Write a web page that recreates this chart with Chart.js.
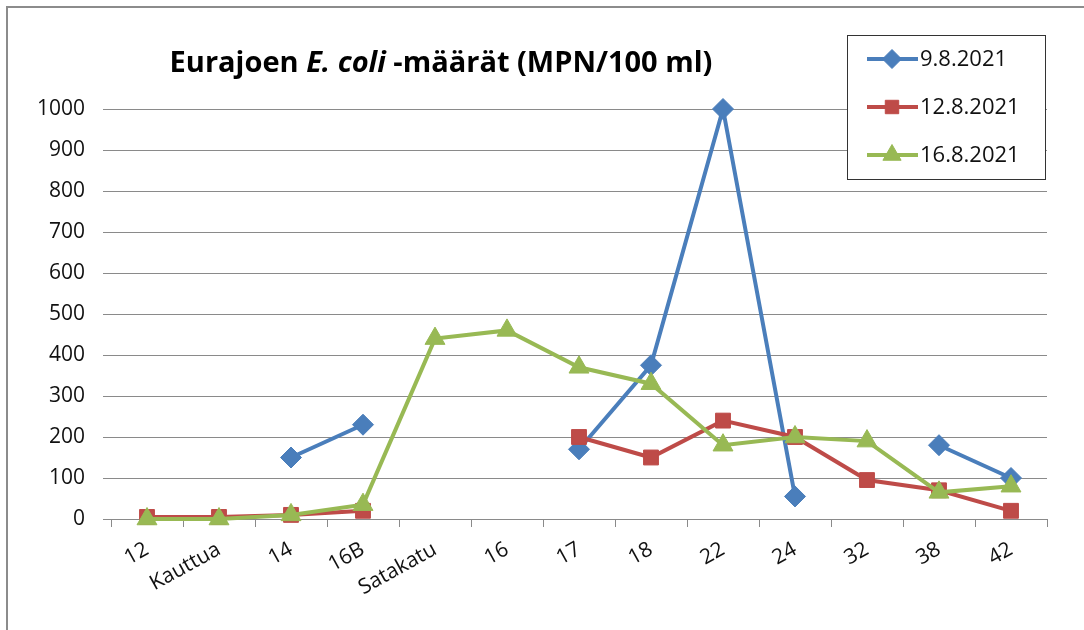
<!DOCTYPE html>
<html lang="fi">
<head>
    <meta charset="UTF-8">
    <title>Eurajoen E. coli -määrät</title>
    <script src="https://cdn.jsdelivr.net/npm/chart.js"></script>
    <style>
        body {
            margin: 0;
            padding: 0;
            background-color: #ffffff;
        }
        #wrap {
            width: 1084px;
            height: 630px;
        }
    </style>
</head>
<body>
    <div id="wrap">
        <canvas id="chart" width="1084" height="630"></canvas>
    </div>

    <script>
        // sampling sites along the river
        const sites = ['12', 'Kauttua', '14', '16B', 'Satakatu', '16', '17', '18', '22', '24', '32', '38', '42'];

        // E. coli counts (MPN/100 ml), null = not sampled
        const aug9 = [null, null, 150, 230, null, null, 170, 375, 1000, 55, null, 180, 100];
        const aug12 = [5, 5, 10, 20, null, null, 200, 150, 240, 200, 95, 70, 20];
        const aug16 = [0, 0, 10, 35, 440, 460, 370, 330, 180, 200, 190, 65, 80];

        const seriesNames = ['9.8.2021', '12.8.2021', '16.8.2021'];
        const yTicks = [0, 100, 200, 300, 400, 500, 600, 700, 800, 900, 1000];

        const FONT = "'Open Sans', sans-serif";
        Chart.defaults.font.family = FONT;
        Chart.defaults.color = '#111';

        // white background + outer frame
        const framePlugin = {
            id: 'frame',
            beforeDraw(chart) {
                const ctx = chart.ctx;
                ctx.save();
                ctx.fillStyle = '#fff';
                ctx.fillRect(0, 0, chart.width, chart.height);
                ctx.strokeStyle = '#8c8c8c';
                ctx.lineWidth = 2;
                ctx.strokeRect(7, 7, chart.width + 20, chart.height + 20);
                ctx.restore();
            }
        };

        // title with italic species name
        const titlePlugin = {
            id: 'mixedTitle',
            afterDraw(chart) {
                const ctx = chart.ctx;
                const parts = [
                    ['bold', 'Eurajoen '],
                    ['italic bold', 'E. coli'],
                    ['bold', ' -määrät (MPN/100 ml)']
                ];
                ctx.save();
                ctx.fillStyle = '#000';
                ctx.textBaseline = 'alphabetic';
                let total = 0;
                parts.forEach(p => {
                    ctx.font = p[0] + ' 29px ' + FONT;
                    total += ctx.measureText(p[1]).width;
                });
                let x = 441 - total / 2;
                parts.forEach(p => {
                    ctx.font = p[0] + ' 29px ' + FONT;
                    ctx.fillText(p[1], x, 72);
                    x += ctx.measureText(p[1]).width;
                });
                ctx.restore();
            }
        };

        // boxed legend in the upper right corner
        const legendPlugin = {
            id: 'boxLegend',
            afterDraw(chart) {
                const ctx = chart.ctx;
                const bx = 847, by = 35, bw = 198, bh = 144;
                ctx.save();
                ctx.fillStyle = '#fff';
                ctx.fillRect(bx, by, bw, bh);
                ctx.strokeStyle = '#333';
                ctx.lineWidth = 1;
                ctx.strokeRect(bx + 0.5, by + 0.5, bw, bh);
                chart.data.datasets.forEach((ds, i) => {
                    const y = 59 + i * 48;
                    ctx.strokeStyle = ds.borderColor;
                    ctx.lineWidth = 4;
                    ctx.beginPath();
                    ctx.moveTo(867, y);
                    ctx.lineTo(918, y);
                    ctx.stroke();
                    ctx.fillStyle = ds.backgroundColor;
                    ctx.lineWidth = 1;
                    Chart.helpers.drawPoint(ctx, {
                        pointStyle: ds.pointStyle,
                        radius: ds.pointRadius - 1,
                        rotation: 0,
                        borderWidth: 1
                    }, 892, y);
                    ctx.fillStyle = '#111';
                    ctx.font = '22px ' + FONT;
                    ctx.textBaseline = 'middle';
                    ctx.fillText(ds.label, 920, y + 1);
                });
                ctx.restore();
            }
        };

        function makeSet(label, data, color, style, radius, order) {
            return {
                label: label,
                data: data,
                order: order,
                clip: false,
                borderColor: color,
                backgroundColor: color,
                borderWidth: 4,
                tension: 0,
                spanGaps: false,
                pointStyle: style,
                pointRadius: radius,
                pointHoverRadius: radius,
                pointBorderWidth: 1,
                pointBorderColor: color,
                pointBackgroundColor: color
            };
        }

        const ctx = document.getElementById('chart').getContext('2d');
        new Chart(ctx, {
            type: 'line',
            data: {
                labels: sites,
                datasets: [
                    makeSet(seriesNames[0], aug9, '#4a7ebb', 'rectRot', 10.5, 2),
                    makeSet(seriesNames[1], aug12, '#be4b48', 'rect', 10.5, 1),
                    makeSet(seriesNames[2], aug16, '#98b954', 'triangle', 11.5, 0)
                ]
            },
            options: {
                responsive: false,
                animation: false,
                layout: {
                    padding: { left: 0, top: 109, right: 37, bottom: 0 }
                },
                plugins: {
                    legend: { display: false },
                    title: { display: false },
                    tooltip: { enabled: false }
                },
                scales: {
                    x: {
                        offset: true,
                        grid: {
                            display: true,
                            offset: true,
                            drawOnChartArea: false,
                            drawTicks: true,
                            tickLength: 8,
                            color: '#8a8a8a'
                        },
                        border: { display: true, color: '#8a8a8a', width: 1 },
                        ticks: {
                            autoSkip: false,
                            minRotation: 29,
                            maxRotation: 29,
                            padding: 10,
                            color: '#111',
                            font: { size: 21 }
                        },
                        afterFit(scale) { scale.height = 111; }
                    },
                    y: {
                        min: 0,
                        max: 1000,
                        afterBuildTicks(scale) {
                            scale.ticks = yTicks.map(v => ({ value: v }));
                        },
                        grid: {
                            color: '#8a8a8a',
                            lineWidth: 1,
                            drawTicks: true,
                            tickLength: 8
                        },
                        border: { display: false },
                        ticks: {
                            padding: 18,
                            color: '#111',
                            font: { size: 21 },
                            callback: v => String(v)
                        },
                        afterFit(scale) { scale.width = 111; }
                    }
                }
            },
            plugins: [framePlugin, titlePlugin, legendPlugin]
        });
    </script>
</body>
</html>
